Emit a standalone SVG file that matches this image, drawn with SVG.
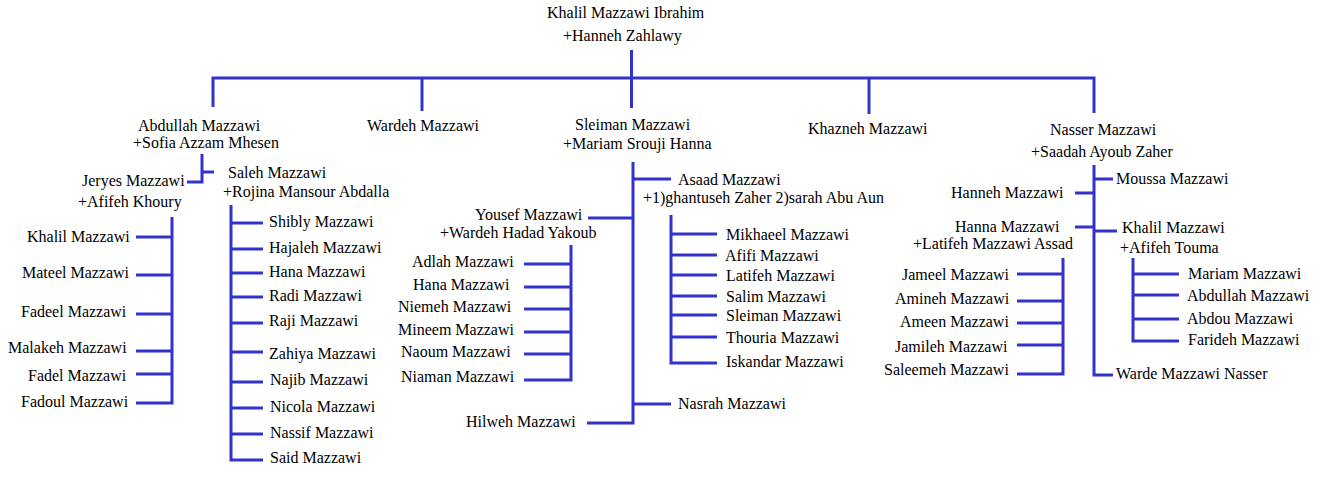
<svg xmlns="http://www.w3.org/2000/svg" width="1326" height="486" viewBox="0 0 1326 486">
<style>
text{font-family:"Liberation Serif","Times New Roman",serif;font-size:16px;fill:#000}
.e{text-anchor:end}
#connectors path{fill:none;stroke:#3333cc;stroke-width:3;stroke-linejoin:miter}
</style>
<rect width="1326" height="486" fill="#fff"/>
<g id="connectors">
<path d="M213,107V78H1094V113"/>
<path d="M631.5,50V108"/>
<path d="M422,78V111"/>
<path d="M869,78V114"/>
<path d="M202,154V182H187M202,172H214"/>
<path d="M172,217V403H136M136,237H172M136,275H172M136,314H172M136,351H172M136,374H172"/>
<path d="M231,205V460H263M231,223H263M231,249H263M231,273H263M231,297H263M231,323H263M231,352H263M231,382H263M231,408H263M231,434H263"/>
<path d="M633,162V423H587M633,179H671M588,218H633M633,404H671"/>
<path d="M671,215V363H717M671,234H717M671,255H717M671,275H717M671,296H717M671,315H717M671,337H717"/>
<path d="M571,245V380H524M524,264H571M524,287H571M524,309H571M524,332H571M524,354H571"/>
<path d="M1094,165V375H1113M1094,179H1113M1094,231H1117M1075,193H1094M1075,227H1094"/>
<path d="M1133,258V341H1179M1133,274H1179M1133,295H1179M1133,319H1179"/>
<path d="M1063,258V374H1017M1017,274H1063M1017,301H1063M1017,323H1063M1017,345H1063"/>
</g>
<g id="n-khalil-ibrahim"><text x="547" y="18">Khalil Mazzawi Ibrahim</text><text x="563" y="41">+Hanneh Zahlawy</text></g>
<g id="n-abdullah"><text x="138" y="131">Abdullah Mazzawi</text><text x="133" y="148">+Sofia Azzam Mhesen</text></g>
<g id="n-wardeh"><text x="367" y="131">Wardeh Mazzawi</text></g>
<g id="n-sleiman"><text x="575" y="130">Sleiman Mazzawi</text><text x="563" y="149">+Mariam Srouji Hanna</text></g>
<g id="n-khazneh"><text x="808" y="134">Khazneh Mazzawi</text></g>
<g id="n-nasser"><text x="1050" y="135">Nasser Mazzawi</text><text x="1031" y="157">+Saadah Ayoub Zaher</text></g>
<g id="n-jeryes"><text x="82" y="186">Jeryes Mazzawi</text><text x="78" y="207">+Afifeh Khoury</text></g>
<g id="n-j-khalil"><text x="27" y="242">Khalil Mazzawi</text></g>
<g id="n-j-mateel"><text x="22" y="278">Mateel Mazzawi</text></g>
<g id="n-j-fadeel"><text x="21" y="317">Fadeel Mazzawi</text></g>
<g id="n-j-malakeh"><text x="8" y="353">Malakeh Mazzawi</text></g>
<g id="n-j-fadel"><text x="28" y="381">Fadel Mazzawi</text></g>
<g id="n-j-fadoul"><text x="21" y="407">Fadoul Mazzawi</text></g>
<g id="n-saleh"><text x="228" y="178">Saleh Mazzawi</text><text x="223" y="197">+Rojina Mansour Abdalla</text></g>
<g id="n-s-shibly"><text x="269" y="227">Shibly Mazzawi</text></g>
<g id="n-s-hajaleh"><text x="269" y="253">Hajaleh Mazzawi</text></g>
<g id="n-s-hana"><text x="269" y="277">Hana Mazzawi</text></g>
<g id="n-s-radi"><text x="269" y="301">Radi Mazzawi</text></g>
<g id="n-s-raji"><text x="269" y="326">Raji Mazzawi</text></g>
<g id="n-s-zahiya"><text x="269" y="359">Zahiya Mazzawi</text></g>
<g id="n-s-najib"><text x="270" y="385">Najib Mazzawi</text></g>
<g id="n-s-nicola"><text x="270" y="412">Nicola Mazzawi</text></g>
<g id="n-s-nassif"><text x="270" y="438">Nassif Mazzawi</text></g>
<g id="n-s-said"><text x="270" y="463">Said Mazzawi</text></g>
<g id="n-asaad"><text x="678" y="185">Asaad Mazzawi</text><text x="643" y="203">+1)ghantuseh Zaher 2)sarah Abu Aun</text></g>
<g id="n-a-mikhaeel"><text x="726" y="240">Mikhaeel Mazzawi</text></g>
<g id="n-a-afifi"><text x="725" y="261">Afifi Mazzawi</text></g>
<g id="n-a-latifeh"><text x="726" y="281">Latifeh Mazzawi</text></g>
<g id="n-a-salim"><text x="726" y="302">Salim Mazzawi</text></g>
<g id="n-a-sleiman"><text x="726" y="321">Sleiman Mazzawi</text></g>
<g id="n-a-thouria"><text x="726" y="343">Thouria Mazzawi</text></g>
<g id="n-a-iskandar"><text x="726" y="367">Iskandar Mazzawi</text></g>
<g id="n-yousef"><text x="475" y="220">Yousef Mazzawi</text><text x="440" y="238">+Wardeh Hadad Yakoub</text></g>
<g id="n-y-adlah"><text x="412" y="267">Adlah Mazzawi</text></g>
<g id="n-y-hana"><text x="413" y="290">Hana Mazzawi</text></g>
<g id="n-y-niemeh"><text x="398" y="312">Niemeh Mazzawi</text></g>
<g id="n-y-mineem"><text x="398" y="335">Mineem Mazzawi</text></g>
<g id="n-y-naoum"><text x="401" y="357">Naoum Mazzawi</text></g>
<g id="n-y-niaman"><text x="401" y="382">Niaman Mazzawi</text></g>
<g id="n-nasrah"><text x="678" y="409">Nasrah Mazzawi</text></g>
<g id="n-hilweh"><text x="466" y="427">Hilweh Mazzawi</text></g>
<g id="n-moussa"><text x="1116" y="184">Moussa Mazzawi</text></g>
<g id="n-hanneh"><text x="951" y="198">Hanneh Mazzawi</text></g>
<g id="n-hanna"><text x="955" y="232">Hanna Mazzawi</text><text x="913" y="249">+Latifeh Mazzawi Assad</text></g>
<g id="n-h-jameel"><text x="902" y="280">Jameel Mazzawi</text></g>
<g id="n-h-amineh"><text x="895" y="304">Amineh Mazzawi</text></g>
<g id="n-h-ameen"><text x="900" y="327">Ameen Mazzawi</text></g>
<g id="n-h-jamileh"><text x="895" y="352">Jamileh Mazzawi</text></g>
<g id="n-h-saleemeh"><text x="884" y="375">Saleemeh Mazzawi</text></g>
<g id="n-khalil-n"><text x="1122" y="233">Khalil Mazzawi</text><text x="1120" y="253">+Afifeh Touma</text></g>
<g id="n-k-mariam"><text x="1188" y="279">Mariam Mazzawi</text></g>
<g id="n-k-abdullah"><text x="1187" y="301">Abdullah Mazzawi</text></g>
<g id="n-k-abdou"><text x="1187" y="324">Abdou Mazzawi</text></g>
<g id="n-k-farideh"><text x="1188" y="345">Farideh Mazzawi</text></g>
<g id="n-warde"><text x="1116" y="379">Warde Mazzawi Nasser</text></g>
</svg>
